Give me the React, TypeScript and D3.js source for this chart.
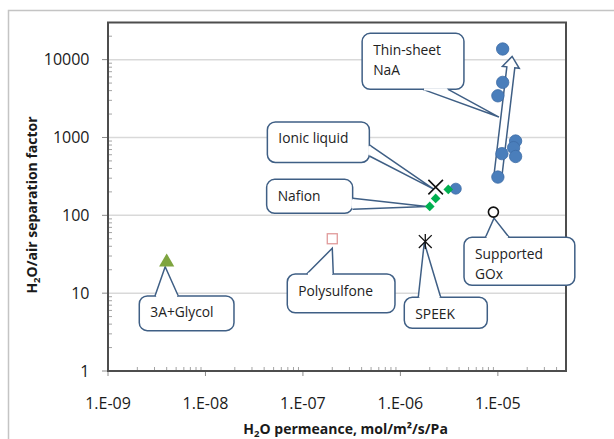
import React from 'react';
import * as d3 from 'd3';

// data
const naaPoints = [
  [1.12e-5, 13700], [1.12e-5, 5100], [1.0e-5, 3430], [1.52e-5, 900],
  [1.45e-5, 740], [1.1e-5, 620], [1.52e-5, 570], [1.0e-5, 310], [3.7e-6, 220],
];
const nafionPoints = [[2.0e-6, 130], [2.3e-6, 165], [3.1e-6, 215]];
const ionicPoints = [[2.3e-6, 230]];
const speekPoints = [[1.8e-6, 46]];
const polysulfonePoints = [[2.0e-7, 50]];
const glycolPoints = [[4.0e-9, 25]];
const goxPoints = [[9.0e-6, 110]];
const arrowFrom = [9.9e-6, 285];
const arrowTo = [1.4e-5, 11000];

const xTicks = [1e-9, 1e-8, 1e-7, 1e-6, 1e-5];
const xTickLabels = ['1.E-09', '1.E-08', '1.E-07', '1.E-06', '1.E-05'];
const yTicks = [1, 10, 100, 1000, 10000];
const yTickLabels = ['1', '10', '100', '1000', '10000'];

const W = 614;
const H = 439;
const plot = { left: 108, right: 566, top: 22.5, bottom: 371 };
const font = '"Open Sans", "Liberation Sans", sans-serif';
const calloutStroke = '#3f5f85';

// callouts: box relative to the anchor pixel, tail base relative to box
const callouts = [
  { lines: ['3A+Glycol'], anchor: glycolPoints[0], box: [-27.4, 33.8, 94.7, 34.7], base: [[15.7, 0], [39, 0]], tip: [-1.5, 4.5] },
  { lines: ['Polysulfone'], anchor: polysulfonePoints[0], box: [-45, 35.3, 107.7, 38.7], base: [[19.4, 0], [46, 0]], tip: [0, 9.5] },
  { lines: ['SPEEK'], anchor: speekPoints[0], box: [-21, 55.7, 83, 31], base: [[14, 0], [36.4, 0]], tip: [-1, 1] },
  { lines: ['Ionic liquid'], anchor: ionicPoints[0], box: [-168.3, -65.2, 102, 40.5], base: [[102, 23], [102, 34]], tip: [-2, 2] },
  { lines: ['Nafion'], anchor: nafionPoints[0], box: [-163.1, -27.1, 86, 34], base: [[86, 19], [86, 30]], tip: [-3, 0] },
  { lines: ['Supported', 'GOx'], anchor: goxPoints[0], box: [-29.4, 25.2, 110.8, 48], base: [[21.5, 0], [45, 0]], tip: [0.6, 6] },
  { lines: ['Thin-sheet', 'NaA'], anchor: [1.05e-5, 2000], box: [-137.8, -80.7, 101.8, 56], base: [[60.7, 56], [86, 56]], tip: [-1, 3] },
];

const x = d3.scaleLog().domain([1e-9, 5e-5]).range([plot.left, plot.right]);
const y = d3.scaleLog().domain([1, 30000]).range([plot.bottom, plot.top]);

const minorX = d3.range(-9, -4).flatMap(e => d3.range(2, 10).map(m => m * Math.pow(10, e))).filter(v => v < 5e-5);
const minorY = d3.range(0, 5).flatMap(e => d3.range(2, 10).map(m => m * Math.pow(10, e))).filter(v => v < 30000);

const Callout = ({ c }) => {
  const ax = x(c.anchor[0]);
  const ay = y(c.anchor[1]);
  const [dx, dy, w, h] = c.box;
  const bx = ax + dx;
  const by = ay + dy;
  const b1 = [bx + c.base[0][0], by + c.base[0][1]];
  const b2 = [bx + c.base[1][0], by + c.base[1][1]];
  const tip = [ax + c.tip[0], ay + c.tip[1]];
  return (
    <g>
      <rect x={bx} y={by} width={w} height={h} rx={8} fill="#fff" stroke={calloutStroke} strokeWidth={1.5} />
      <path d={`M${b1}L${tip}L${b2}`} fill="#fff" stroke={calloutStroke} strokeWidth={1.5} strokeLinejoin="miter" />
      <line x1={b1[0]} y1={b1[1]} x2={b2[0]} y2={b2[1]} stroke="#fff" strokeWidth={2.4}
        strokeDasharray={`0 1.2 ${Math.hypot(b2[0] - b1[0], b2[1] - b1[1]) - 2.4} 10`} />
      {c.lines.map((t, i) => (
        <text key={i} x={bx + 11} y={by + 21.5 + i * 20.5} fontSize={13.8} fill="#222">{t}</text>
      ))}
    </g>
  );
};

const BlockArrow = () => {
  const x0 = x(arrowFrom[0]), y0 = y(arrowFrom[1]);
  const x1 = x(arrowTo[0]), y1 = y(arrowTo[1]);
  const len = Math.hypot(x1 - x0, y1 - y0);
  const ang = (Math.atan2(y1 - y0, x1 - x0) * 180) / Math.PI;
  const bw = 4, hw = 8.5, hl = 11;
  const pts = [[0, -bw], [len - hl, -bw], [len - hl, -hw], [len, 0], [len - hl, hw], [len - hl, bw], [0, bw]];
  return (
    <polygon points={pts.map(p => p.join(',')).join(' ')} transform={`translate(${x0},${y0}) rotate(${ang})`}
      fill="#fff" stroke={calloutStroke} strokeWidth={1.5} />
  );
};

export default function App() {
  return (
    <div style={{ position: 'absolute', left: 0, top: 0 }}>
      <svg width={W} height={H} style={{ display: 'block', fontFamily: font }}>
        <rect x={0} y={0} width={W} height={H} fill="#fff" />
        <rect x={8.5} y={10.5} width={W + 20} height={H + 20} fill="none" stroke="#c4c4c4" strokeWidth={1.5} />

        {/* gridlines */}
        {yTicks.slice(1).map(v => (
          <line key={v} x1={plot.left} x2={plot.right} y1={y(v)} y2={y(v)} stroke="#d9d9d9" strokeWidth={1.5} />
        ))}

        {/* minor ticks */}
        {minorY.map(v => (
          <line key={'my' + v} x1={plot.left} x2={plot.left + 4} y1={y(v)} y2={y(v)} stroke="#8c8c8c" strokeWidth={0.8} />
        ))}
        {minorX.map(v => (
          <line key={'mx' + v} x1={x(v)} x2={x(v)} y1={plot.bottom} y2={plot.bottom - 4} stroke="#8c8c8c" strokeWidth={0.8} />
        ))}
        {yTicks.map(v => (
          <line key={'ty' + v} x1={plot.left - 6} x2={plot.left} y1={y(v)} y2={y(v)} stroke="#8c8c8c" strokeWidth={1} />
        ))}
        {xTicks.map(v => (
          <line key={'tx' + v} x1={x(v)} x2={x(v)} y1={plot.bottom} y2={plot.bottom + 5} stroke="#8c8c8c" strokeWidth={1} />
        ))}

        {/* plot frame */}
        <rect x={plot.left} y={plot.top} width={plot.right - plot.left} height={plot.bottom - plot.top}
          fill="none" stroke="#4d4d4d" strokeWidth={2} />

        {/* tick labels */}
        {yTicks.map((v, i) => (
          <text key={'ly' + v} x={89.5} y={y(v) + 5.7} textAnchor="end" fontSize={16} fill="#1a1a1a">{yTickLabels[i]}</text>
        ))}
        {xTicks.map((v, i) => (
          <text key={'lx' + v} x={x(v)} y={408.5} textAnchor="middle" fontSize={16} fill="#1a1a1a">{xTickLabels[i]}</text>
        ))}

        {/* axis titles */}
        <text x={345.6} y={433.5} textAnchor="middle" fontSize={14} fontWeight="bold" fill="#1a1a1a">
          H<tspan fontSize={9.5} dy={3}>2</tspan><tspan dy={-3}>O permeance, mol/m²/s/Pa</tspan>
        </text>
        <text transform="translate(37,205) rotate(-90)" textAnchor="middle" fontSize={14} fontWeight="bold" fill="#1a1a1a">
          H<tspan fontSize={9.5} dy={3}>2</tspan><tspan dy={-3}>O/air separation factor</tspan>
        </text>

        {/* callouts */}
        {callouts.map((c, i) => <Callout key={i} c={c} />)}
        <BlockArrow />

        {/* markers */}
        {naaPoints.map((d, i) => (
          <circle key={'n' + i} cx={x(d[0])} cy={y(d[1])} r={i === naaPoints.length - 1 ? 5.5 : 6.2} fill="#4a7ebb" stroke="#3d6ca6" strokeWidth={0.8} />
        ))}
        {nafionPoints.map((d, i) => (
          <path key={'f' + i} d={d3.symbol(d3.symbolDiamond2, 60)()} transform={`translate(${x(d[0])},${y(d[1])})`} fill="#00b050" />
        ))}
        {ionicPoints.map((d, i) => (
          <path key={'i' + i} d={d3.symbol(d3.symbolX, 140)()} transform={`translate(${x(d[0])},${y(d[1])})`} fill="none" stroke="#111" strokeWidth={1.6} />
        ))}
        {speekPoints.map((d, i) => (
          <g key={'s' + i} transform={`translate(${x(d[0])},${y(d[1])})`} stroke="#111" strokeWidth={1.3}>
            <path d={d3.symbol(d3.symbolX, 110)()} fill="none" />
            <line x1={0} x2={0} y1={-7.5} y2={7.5} />
          </g>
        ))}
        {polysulfonePoints.map((d, i) => (
          <rect key={'p' + i} x={x(d[0]) - 5} y={y(d[1]) - 5} width={10} height={10} fill="#fff" stroke="#e09a9a" strokeWidth={1.3} />
        ))}
        {glycolPoints.map((d, i) => (
          <path key={'g' + i} d={d3.symbol(d3.symbolTriangle, 100)()} transform={`translate(${x(d[0])},${y(d[1])})`} fill="#7ea43f" />
        ))}
        {goxPoints.map((d, i) => (
          <circle key={'o' + i} cx={x(d[0])} cy={y(d[1])} r={5} fill="#fff" stroke="#111" strokeWidth={1.6} />
        ))}
      </svg>
    </div>
  );
}
